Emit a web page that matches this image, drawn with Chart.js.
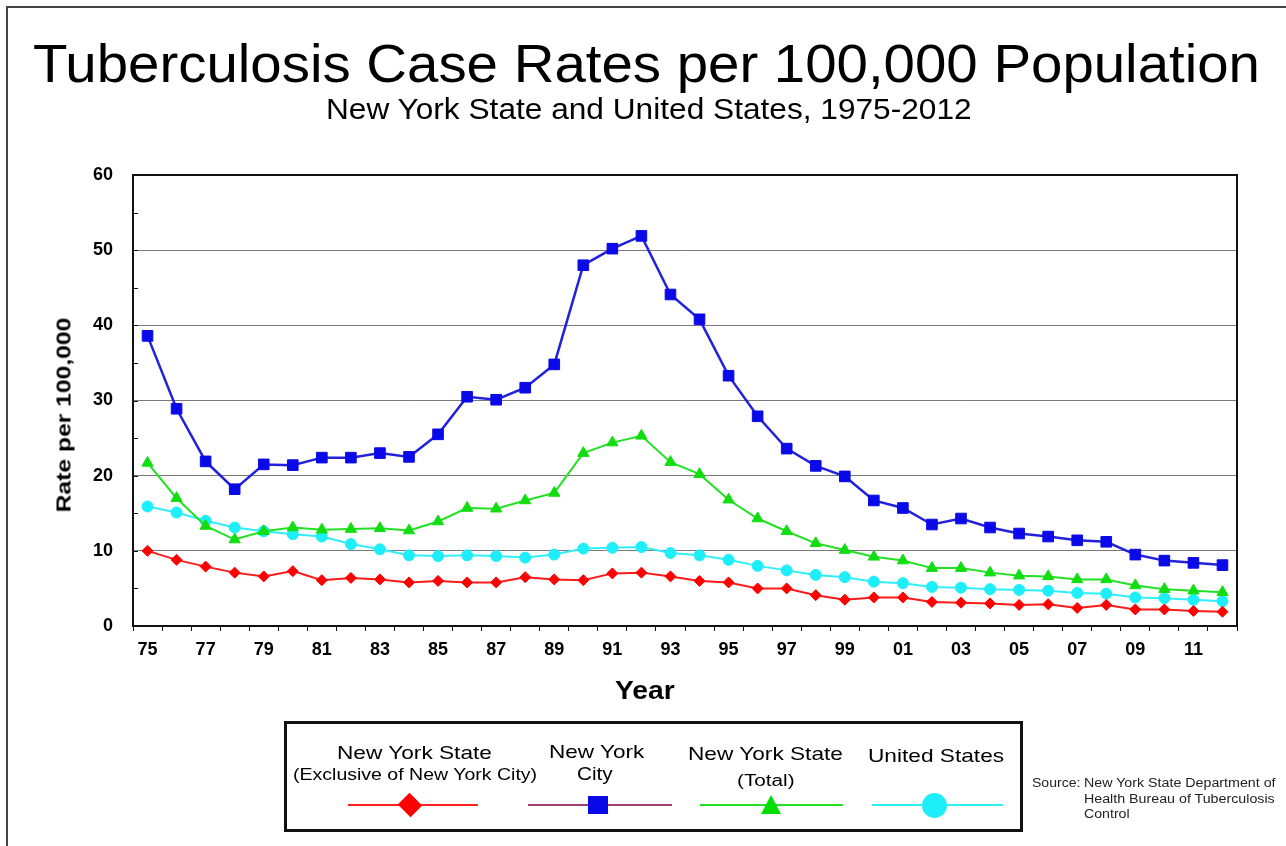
<!DOCTYPE html>
<html>
<head>
<meta charset="utf-8">
<script src="https://cdn.jsdelivr.net/npm/chart.js@4.4.1/dist/chart.umd.min.js"></script>
<style>
  body { margin: 0; background: #fff; font-family: "Liberation Sans", Arial, sans-serif; }
  #wrap { position: relative; width: 1286px; height: 846px; overflow: hidden; background: #fff; }
  #frame { position: absolute; left: 6px; top: 6px; width: 1300px; height: 860px; border-top: 2px solid #444; border-left: 2px solid #444; }
  #chart { position: absolute; left: 0; top: 0; }
  .t { position: absolute; white-space: nowrap; display: inline-block; color: #000; }
  #ytitle { position: absolute; left: 63px; top: 415px; font-weight: bold; font-size: 21px; line-height: 21px; white-space: nowrap; }
  #legendBox { position: absolute; left: 284px; top: 721px; width: 739px; height: 111px; box-sizing: border-box; border: 3px solid #111; }
  .lline { position: absolute; height: 2px; top: 804px; }
  .mk { position: absolute; }
</style>
</head>
<body>
<div id="wrap">
  <div id="frame"></div>
  <canvas id="chart" width="1286" height="846"></canvas>

  <div class="t" data-cx="646" data-base="82" data-fs="53" data-w="1227">Tuberculosis Case Rates per 100,000 Population</div>
  <div class="t" data-cx="649" data-base="120" data-fs="29" data-w="646">New York State and United States, 1975-2012</div>
  <div id="ytitle">Rate per 100,000</div>
  <div class="t" style="font-weight:bold" data-cx="645" data-base="699" data-fs="25" data-w="60">Year</div>

  <div id="legendBox"></div>
  <div class="t" data-cx="414" data-base="759" data-fs="19" data-w="155">New York State</div>
  <div class="t" data-cx="415" data-base="781" data-fs="16" data-w="244">(Exclusive of New York City)</div>
  <div class="t" data-cx="596" data-base="758" data-fs="19" data-w="95">New York</div>
  <div class="t" data-cx="595" data-base="780" data-fs="19" data-w="36">City</div>
  <div class="t" data-cx="765" data-base="760" data-fs="19" data-w="155">New York State</div>
  <div class="t" data-cx="765" data-base="787" data-fs="16" data-w="57">(Total)</div>
  <div class="t" data-cx="936" data-base="762" data-fs="19" data-w="136">United States</div>

  <div class="lline" style="left:348px;width:130px;background:#ff2020"></div>
  <div class="mk" style="left:401px;top:796px;width:18px;height:18px;background:#ff0000;transform:rotate(45deg) scaleY(0.92)"></div>
  <div class="lline" style="left:528px;width:144px;background:#a04070"></div>
  <div class="mk" style="left:588px;top:796px;width:20px;height:18px;background:#0a0ae8"></div>
  <div class="lline" style="left:700px;width:143px;background:#22e022"></div>
  <div class="mk" style="left:761px;top:795px;width:0;height:0;border-left:10px solid transparent;border-right:10px solid transparent;border-bottom:19px solid #00dd00"></div>
  <div class="lline" style="left:872px;width:131px;background:#30eefa"></div>
  <div class="mk" style="left:922px;top:793px;width:25px;height:25px;border-radius:50%;background:#1eeefa"></div>

  <div class="t" style="color:#222" data-x="1032" data-base="787" data-fs="12" data-w="48">Source:</div>
  <div class="t" style="color:#222" data-x="1084" data-base="787" data-fs="12" data-w="191">New York State Department of</div>
  <div class="t" style="color:#222" data-x="1084" data-base="803" data-fs="12" data-w="191">Health Bureau of Tuberculosis</div>
  <div class="t" style="color:#222" data-x="1084" data-base="818" data-fs="12" data-w="46">Control</div>
</div>
<script>
// years 1975-2012, shown as two digits
const years = ['75','76','77','78','79','80','81','82','83','84','85','86','87','88','89',
  '90','91','92','93','94','95','96','97','98','99','00','01','02','03','04','05','06',
  '07','08','09','10','11','12'];

const nysExclNyc = [10.0, 8.8, 7.9, 7.1, 6.6, 7.3, 6.1, 6.4, 6.2, 5.8, 6.0, 5.8, 5.8, 6.5,
  6.2, 6.1, 7.0, 7.1, 6.6, 6.0, 5.8, 5.0, 5.0, 4.1, 3.5, 3.8, 3.8, 3.2, 3.1, 3.0, 2.8,
  2.9, 2.4, 2.8, 2.2, 2.2, 2.0, 1.9];
const nycRates = [38.6, 28.9, 21.9, 18.2, 21.5, 21.4, 22.4, 22.4, 23.0, 22.5, 25.5, 30.5,
  30.1, 31.7, 34.8, 48.0, 50.2, 51.9, 44.1, 40.8, 33.3, 27.9, 23.6, 21.3, 19.9, 16.7,
  15.7, 13.5, 14.3, 13.1, 12.3, 11.9, 11.4, 11.2, 9.5, 8.7, 8.4, 8.1];
const nysTotal = [21.7, 17.0, 13.3, 11.5, 12.6, 13.1, 12.8, 12.9, 13.0, 12.7, 13.9, 15.7,
  15.6, 16.7, 17.7, 23.0, 24.4, 25.3, 21.8, 20.2, 16.8, 14.3, 12.6, 11.0, 10.1, 9.2, 8.7,
  7.7, 7.7, 7.1, 6.7, 6.6, 6.2, 6.2, 5.4, 4.9, 4.7, 4.5];
const usRates = [15.9, 15.1, 14.0, 13.1, 12.6, 12.2, 11.9, 10.9, 10.2, 9.4, 9.3, 9.4, 9.3,
  9.1, 9.5, 10.3, 10.4, 10.5, 9.7, 9.4, 8.8, 8.0, 7.4, 6.8, 6.5, 5.9, 5.7, 5.2, 5.1, 4.9,
  4.8, 4.7, 4.4, 4.3, 3.8, 3.7, 3.5, 3.3];

// fit html text to measured widths
document.querySelectorAll('.t').forEach(function(el) {
  const fs = +el.dataset.fs;
  el.style.fontSize = fs + 'px';
  el.style.lineHeight = fs + 'px';
  const nat = el.offsetWidth;
  const w = +el.dataset.w;
  const left = el.dataset.cx ? (+el.dataset.cx - w / 2) : +el.dataset.x;
  el.style.left = left + 'px';
  el.style.top = (+el.dataset.base - 0.8465 * fs) + 'px';
  el.style.transformOrigin = '0 0';
  el.style.transform = 'scaleX(' + (w / nat) + ')';
});
const yt = document.getElementById('ytitle');
const ytScale = 195 / yt.offsetWidth;
yt.style.transform = 'translate(-50%,-50%) rotate(-90deg) scaleX(' + ytScale + ')';

// border around plot + small inner ticks on y axis
const framePlugin = {
  id: 'frame',
  afterDraw(chart) {
    const ctx = chart.ctx;
    const a = chart.chartArea;
    const y = chart.scales.y;
    ctx.save();
    ctx.strokeStyle = '#111';
    ctx.lineWidth = 2;
    ctx.strokeRect(a.left, a.top, a.right - a.left, a.bottom - a.top);
    ctx.lineWidth = 1;
    y.ticks.forEach(function(t) {
      const py = Math.round(y.getPixelForValue(t.value)) + 0.5;
      ctx.beginPath();
      ctx.moveTo(a.left, py);
      ctx.lineTo(a.left + 5, py);
      ctx.stroke();
    });
    ctx.restore();
  }
};

const tickFont = { family: '"Liberation Sans", Arial, sans-serif', size: 18, weight: 'bold' };

new Chart(document.getElementById('chart'), {
  type: 'line',
  data: {
    labels: years,
    datasets: [
      {
        label: 'New York State (Exclusive of New York City)',
        data: nysExclNyc,
        borderColor: '#ff1a1a',
        backgroundColor: '#ff0000',
        borderWidth: 2,
        pointStyle: 'rectRot',
        pointRadius: 5.5,
        pointBorderWidth: 1,
        pointBorderColor: '#ff0000'
      },
      {
        label: 'New York City',
        data: nycRates,
        borderColor: '#2222dc',
        backgroundColor: '#0a0ae8',
        borderWidth: 2.5,
        pointStyle: 'rect',
        pointRadius: 7.5,
        pointBorderWidth: 1,
        pointBorderColor: '#0a0ae8'
      },
      {
        label: 'New York State (Total)',
        data: nysTotal,
        borderColor: '#22e022',
        backgroundColor: '#11dd11',
        borderWidth: 2,
        pointStyle: 'triangle',
        pointRadius: 6.5,
        pointBorderWidth: 1,
        pointBorderColor: '#11dd11'
      },
      {
        label: 'United States',
        data: usRates,
        borderColor: '#30eefa',
        backgroundColor: '#1eeefa',
        borderWidth: 2,
        pointStyle: 'circle',
        pointRadius: 5.5,
        pointBorderWidth: 1,
        pointBorderColor: '#1eeefa'
      }
    ]
  },
  options: {
    responsive: false,
    animation: false,
    layout: { padding: { top: 175, right: 49, bottom: 140, left: 0 } },
    plugins: { legend: { display: false }, tooltip: { enabled: false } },
    scales: {
      x: {
        offset: true,
        afterFit: function(scale) { scale.height = 80; },
        grid: { offset: true, drawOnChartArea: false, drawTicks: true, tickLength: 5, color: '#111' },
        border: { color: '#111', width: 2 },
        ticks: {
          autoSkip: false,
          maxRotation: 0,
          padding: 8,
          color: '#000',
          font: tickFont,
          callback: function(v, i) { return i % 2 === 0 ? this.getLabelForValue(v) : ''; }
        }
      },
      y: {
        min: 0,
        max: 60,
        afterFit: function(scale) { scale.width = 133; },
        grid: {
          drawTicks: false,
          lineWidth: 1,
          color: function(c) {
            const v = c.tick.value;
            return (v % 10 === 0 && v > 0 && v < 60) ? '#7a7a7a' : 'rgba(0,0,0,0)';
          }
        },
        border: { color: '#111', width: 2 },
        ticks: {
          stepSize: 5,
          padding: 20,
          color: '#000',
          font: tickFont,
          callback: function(v) { return v % 10 === 0 ? v : ''; }
        }
      }
    }
  },
  plugins: [framePlugin]
});
</script>
</body>
</html>
